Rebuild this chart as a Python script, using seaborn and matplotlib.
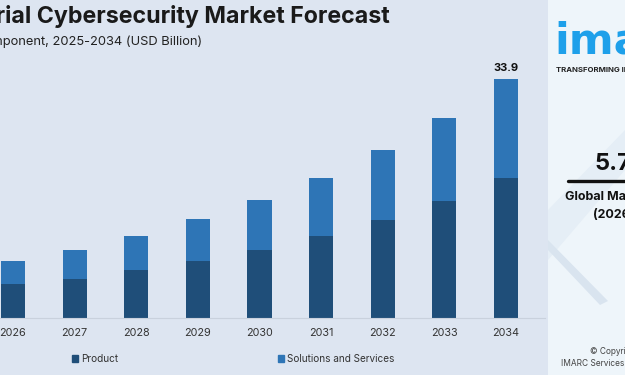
import matplotlib
matplotlib.use("Agg")
import matplotlib.pyplot as plt
import seaborn as sns
import pandas as pd
from matplotlib.patches import Rectangle, Polygon

# data (USD Billion)
years = ["2025", "2026", "2027", "2028", "2029", "2030", "2031", "2032", "2033", "2034"]
product = [4.2, 4.8, 5.6, 6.8, 8.1, 9.7, 11.7, 13.9, 16.6, 19.9]
solutions = [2.9, 3.3, 4.1, 4.8, 5.9, 7.0, 8.2, 9.9, 11.8, 14.0]
series_names = ["Product", "Solutions and Services"]

dark = "#1f4e79"
light = "#2e75b6"
bg = "#dde5f1"

df = pd.DataFrame({"year": years, "product": product, "solutions": solutions})
df["total"] = df["product"] + df["solutions"]

sns.set_style("white")
plt.rcParams["font.family"] = ["Inter", "DejaVu Sans"]

fig = plt.figure(figsize=(6.25, 3.75), dpi=100)
fig.patch.set_facecolor(bg)

W, H = 625, 375
# axes placed in pixel terms: baseline at y=318, plot spans x 0..545
ax = fig.add_axes([0, (H - 318) / H, 545 / W, (318 - 60) / H])
ax.set_facecolor(bg)

sns.barplot(data=df, x="year", y="total", order=years, color=light,
            width=0.39, saturation=1, linewidth=0, ax=ax)
sns.barplot(data=df, x="year", y="product", order=years, color=dark,
            width=0.39, saturation=1, linewidth=0, ax=ax)

step = 61.625
ax.set_xlim(1 - 13 / step, 9 + (545 - 506) / step)
ax.set_ylim(0, (318 - 60) / 7.05)
for s in ["top", "right", "left"]:
    ax.spines[s].set_visible(False)
ax.spines["bottom"].set_color("#c9d1dd")
ax.spines["bottom"].set_linewidth(0.8)
ax.set_yticks([])
ax.set_xlabel("")
ax.set_ylabel("")
ax.tick_params(axis="x", length=0, labelsize=7.8, colors="#333333", pad=7)

# last value label
ax.text(9, df["total"].iloc[-1] + 0.9, f"{df['total'].iloc[-1]:.1f}",
        ha="center", va="bottom", fontsize=8, fontweight="bold", color="#111111")

# legend
handles = [Rectangle((0, 0), 1, 1, color=dark), Rectangle((0, 0), 1, 1, color=light)]
fig.legend(handles, series_names, loc="center left", bbox_to_anchor=(63 / W, 1 - 359 / H),
           ncol=2, frameon=False, fontsize=7.2, handlelength=0.6, handleheight=0.6,
           handletextpad=0.35, columnspacing=15.9, labelcolor="#333333")

# titles (cropped on the left as in the reference)
fig.text(390 / W, 1 - 17 / H, "Industrial Cybersecurity Market Forecast",
         ha="right", va="center", fontsize=16.7, fontweight="bold", color="#1a1a1a")
fig.text(202 / W, 1 - 42 / H, "By Component, 2025-2034 (USD Billion)",
         ha="right", va="center", fontsize=9.3, color="#222222")

# right side panel
fig.patches.append(Rectangle((548 / W, 0), 77 / W, 1, transform=fig.transFigure,
                             facecolor="#eef5fa", edgecolor="none", zorder=0))
fig.patches.append(Polygon([(548 / W, 1 - 210 / H), (625 / W, 1 - 130 / H),
                            (625 / W, 1 - 170 / H), (548 / W, 1 - 260 / H)],
                           closed=True, transform=fig.transFigure,
                           facecolor="#e5eef6", edgecolor="none", zorder=0))
fig.patches.append(Polygon([(548 / W, 1 - 250 / H), (600 / W, 1 - 305 / H),
                            (608 / W, 1 - 301 / H), (548 / W, 1 - 240 / H)],
                           closed=True, transform=fig.transFigure,
                           facecolor="#d9e4ef", edgecolor="none", zorder=0))
fig.text(554 / W, 1 - 53 / H, "imarc", ha="left", va="baseline", fontsize=31,
         fontweight="bold", color="#1ea0ea", family="DejaVu Sans")
fig.text(556 / W, 1 - 70 / H, "TRANSFORMING IDEAS INTO IMPACT", ha="left", va="center",
         fontsize=5.6, fontweight="bold", color="#222222")
fig.text(595 / W, 1 - 164 / H, "5.76%", ha="left", va="center", fontsize=17,
         fontweight="bold", color="#111111")
fig.add_artist(plt.Line2D([568 / W, 1], [1 - 181 / H, 1 - 181 / H], color="#111111",
                          linewidth=2.4, transform=fig.transFigure))
fig.text(565 / W, 1 - 197 / H, "Global Market Growth Rate", ha="left", va="center",
         fontsize=9, fontweight="bold", color="#111111")
fig.text(593 / W, 1 - 215 / H, "(2026-2034)", ha="left", va="center",
         fontsize=9, fontweight="bold", color="#111111")
fig.text(590 / W, 1 - 351 / H, "\u00a9 Copyright", ha="left", va="center",
         fontsize=6, color="#444444")
fig.text(561 / W, 1 - 363 / H, "IMARC Services Private Limited", ha="left", va="center",
         fontsize=6, color="#444444")

fig.savefig("out.png", dpi=100, facecolor=fig.get_facecolor())
